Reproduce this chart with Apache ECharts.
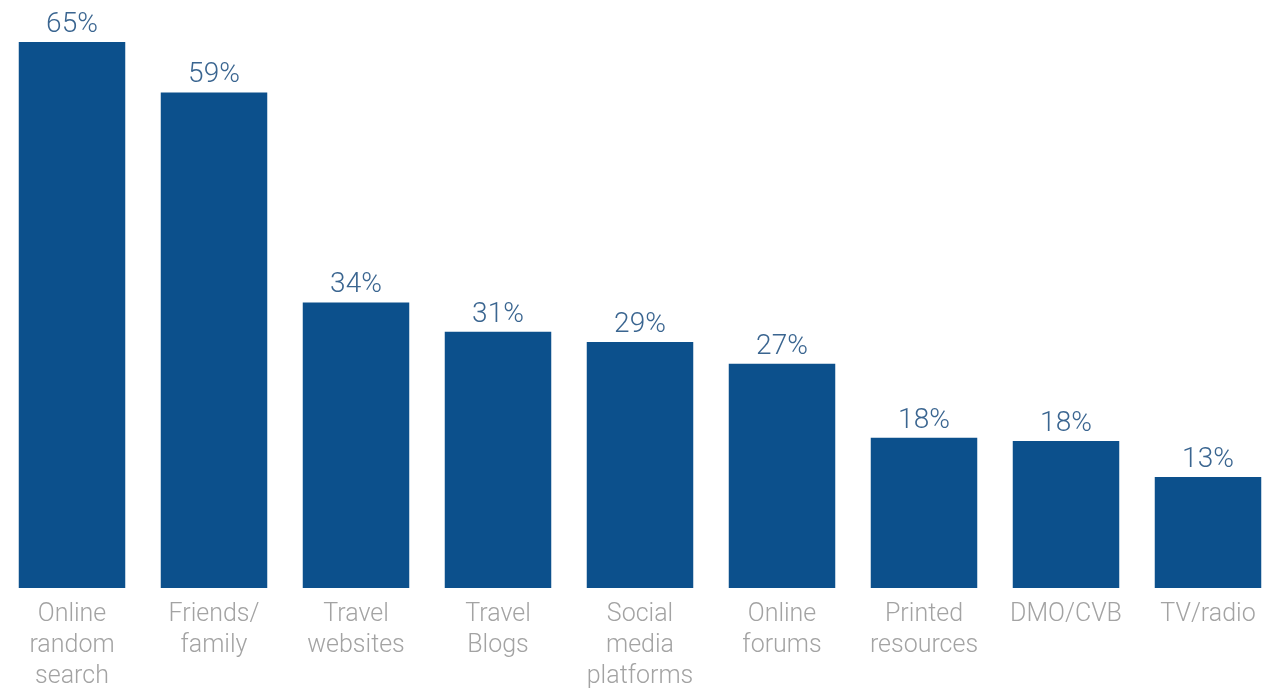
<!DOCTYPE html>
<html>
<head>
<meta charset="utf-8">
<script src="https://cdn.jsdelivr.net/npm/echarts@6/dist/echarts.min.js"></script>
<style>html,body{margin:0;padding:0;background:#fff;}#c{width:1286px;height:688px;}</style>
</head>
<body>
<div id="c"></div>
<script>
const categories = ["Online\nrandom\nsearch", "Friends/\nfamily", "Travel\nwebsites", "Travel\nBlogs", "Social\nmedia\nplatforms", "Online\nforums", "Printed\nresources", "DMO/CVB", "TV/radio"];
const values = [65, 59, 34, 30.5, 29.3, 26.7, 17.9, 17.5, 13.2];
const labels = ["65%", "59%", "34%", "31%", "29%", "27%", "18%", "18%", "13%"];

const chart = echarts.init(document.getElementById('c'), null, {renderer: 'canvas'});
chart.setOption({
  animation: false,
  grid: {left: 1, right: 7, top: 42, bottom: 100, containLabel: false, outerBoundsMode: 'none'},
  xAxis: {
    type: 'category',
    data: categories,
    axisLine: {show: false},
    axisTick: {show: false},
    axisLabel: {
      interval: 0,
      margin: 11,
      color: '#a3a3a3',
      fontFamily: 'Roboto',
      fontWeight: 300,
      fontSize: 25,
      lineHeight: 31
    }
  },
  yAxis: {
    type: 'value',
    min: 0,
    max: 65,
    show: false,
    splitLine: {show: false}
  },
  series: [{
    type: 'bar',
    data: values,
    barCategoryGap: '25%',
    itemStyle: {color: '#0c508c'},
    label: {
      show: true,
      position: 'top',
      distance: 3,
      color: '#3a6590',
      fontFamily: 'Roboto',
      fontWeight: 300,
      fontSize: 28,
      formatter: p => labels[p.dataIndex]
    }
  }]
});
</script>
</body>
</html>
